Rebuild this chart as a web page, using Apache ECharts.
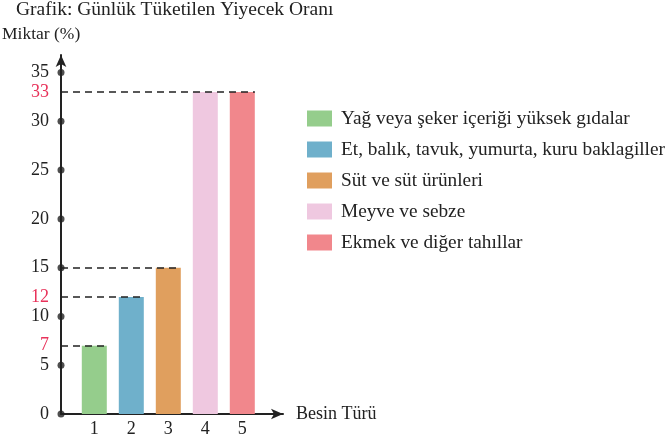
<!DOCTYPE html>
<html>
<head>
    <meta charset="utf-8">
    <title>ECharts</title>
    <script src="https://cdn.jsdelivr.net/npm/echarts@6/dist/echarts.min.js"></script>
</head>
<body style="margin:0">
<div id="main" style="width: 668px;height:438px;"></div>
<script type="text/javascript">
    // veriler
    var kategoriler = [1, 2, 3, 4, 5];
    var degerler = [7, 12, 15, 33, 33];
    var seriAdlari = ['Yağ veya şeker içeriği yüksek gıdalar', 'Et, balık, tavuk, yumurta, kuru baklagiller',
        'Süt ve süt ürünleri', 'Meyve ve sebze', 'Ekmek ve diğer tahıllar'];
    var renkler = ['#95cd8c', '#6fb0cb', '#e09f5e', '#efc8e0', '#f1878c'];
    var yEtiketleri = [0, 5, 7, 10, 12, 15, 20, 25, 30, 33, 35];
    var kirmiziEtiketler = [7, 12, 33];
    var noktalar = [0, 5, 10, 15, 20, 25, 30, 35];
    // kesikli çizgilerin hangi çubuğa kadar gittiği
    var cizgiBitis = [1, 2, 3, null, 5];

    var font = '"Liberation Serif", "DejaVu Serif", serif';
    var xMin = 0.1;
    var yarimCubuk = 0.34;

    var myChart = echarts.init(document.getElementById('main'));

    var series = kategoriler.map(function (k, i) {
        var s = {
            name: seriAdlari[i],
            type: 'bar',
            stack: 'hepsi',
            barWidth: 25,
            itemStyle: {color: renkler[i]},
            data: [[k, degerler[i]]]
        };
        if (cizgiBitis[i] !== null) {
            s.markLine = {
                silent: true,
                symbol: 'none',
                label: {show: false},
                lineStyle: {color: '#222', type: [7, 5], width: 1.6},
                data: [[{coord: [xMin, degerler[i]]}, {coord: [cizgiBitis[i] + yarimCubuk, degerler[i]]}]]
            };
        }
        return s;
    });
    series.push({
        type: 'scatter',
        symbolSize: 7,
        itemStyle: {color: '#222'},
        z: 5,
        data: noktalar.map(function (v) { return [xMin, v]; })
    });

    var option = {
        animation: false,
        textStyle: {fontFamily: font},
        title: {
            text: 'Grafik: Günlük Tüketilen Yiyecek Oranı',
            left: 11,
            top: -5,
            textStyle: {fontFamily: font, fontSize: 19.5, fontWeight: 'normal', color: '#222'}
        },
        legend: {
            orient: 'vertical',
            left: 302,
            top: 104,
            itemWidth: 25,
            itemHeight: 16,
            itemGap: 12,
            icon: 'rect',
            data: seriAdlari,
            textStyle: {fontFamily: font, fontSize: 19.3, color: '#222', lineHeight: 16, padding: [0, 0, 0, 4]}
        },
        grid: {left: 61, right: 385, top: 55, bottom: 23.3},
        xAxis: {
            type: 'value',
            min: xMin,
            max: 6.1,
            name: 'Besin Türü',
            nameGap: 13,
            nameTextStyle: {fontFamily: font, fontSize: 18, color: '#222', padding: [6, 0, 0, 0]},
            splitLine: {show: false},
            axisTick: {show: false},
            axisLine: {symbol: ['none', 'arrow'], symbolSize: [8, 12], lineStyle: {color: '#222', width: 2}},
            axisLabel: {customValues: kategoriler, fontSize: 18, color: '#222', margin: 6}
        },
        yAxis: {
            type: 'value',
            min: 0,
            max: 36.8,
            name: 'Miktar (%)',
            nameLocation: 'end',
            nameGap: 12,
            nameTextStyle: {fontFamily: font, fontSize: 17.5, color: '#222', align: 'left', padding: [0, 0, 0, -59]},
            splitLine: {show: false},
            axisTick: {show: false},
            axisLine: {symbol: ['none', 'arrow'], symbolSize: [8, 12], lineStyle: {color: '#222', width: 2}},
            axisLabel: {
                customValues: yEtiketleri,
                fontSize: 18,
                color: '#222',
                margin: 12,
                formatter: function (v) {
                    return kirmiziEtiketler.indexOf(v) >= 0 ? '{r|' + v + '}' : String(v);
                },
                rich: {r: {color: '#e8325a', fontSize: 18, fontFamily: font}}
            }
        },
        series: series
    };
    myChart.setOption(option);
</script>
</body>
</html>
